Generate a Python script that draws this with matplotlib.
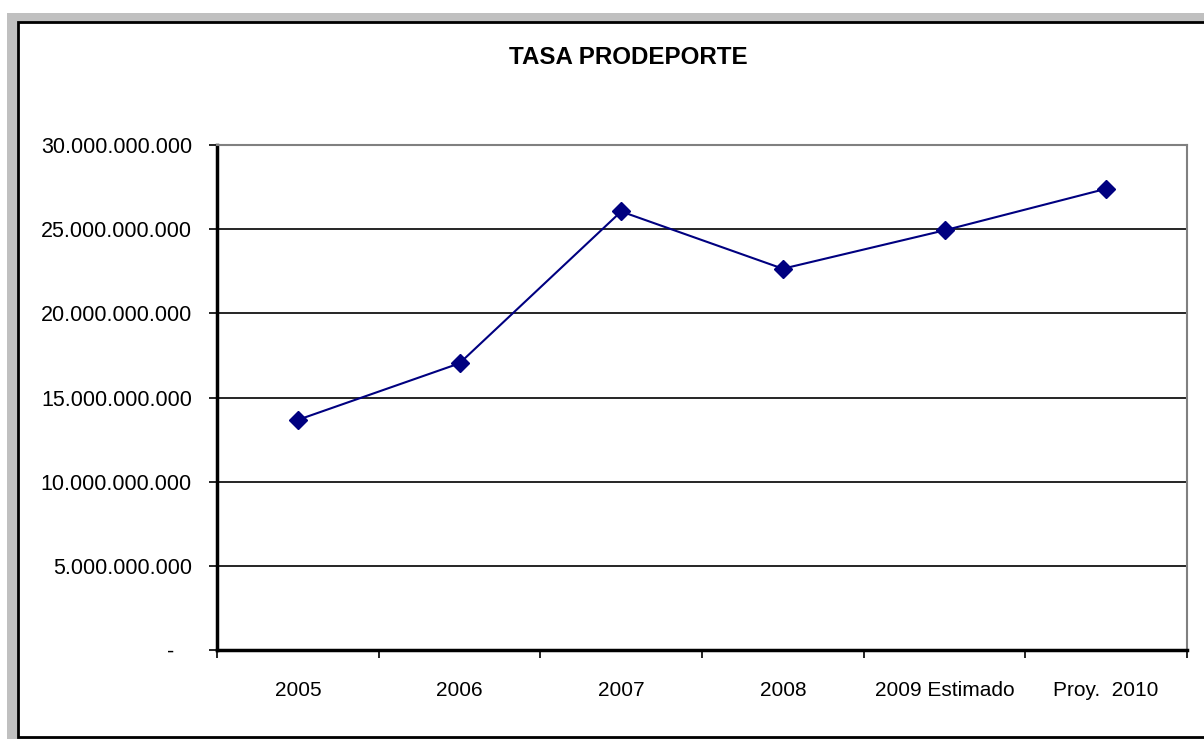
import matplotlib.pyplot as plt
from matplotlib.patches import Rectangle
from matplotlib.ticker import FixedLocator, FuncFormatter

plt.rcParams['font.family'] = ['Liberation Sans', 'DejaVu Sans']

categories = ['2005', '2006', '2007', '2008', '2009 Estimado', 'Proy.  2010']
values = [13.67e9, 17.03e9, 26.05e9, 22.65e9, 24.93e9, 27.40e9]

fig = plt.figure(figsize=(12.04, 7.39), dpi=100)
W, H = 1204, 739

# gray outer frame and white chart box
fig.patches.append(Rectangle((7 / W, 0), 1, 1 - 13 / H, transform=fig.transFigure,
                             facecolor='#c0c0c0', edgecolor='none', zorder=0))
fig.patches.append(Rectangle((17.5 / W, 2 / H), 1.2, 1 - 24 / H, transform=fig.transFigure,
                             facecolor='white', edgecolor='black', linewidth=2, zorder=1))

ax = fig.add_axes([217 / W, 89 / H, 970 / W, 505 / H])
ax.set_zorder(2)
ax.patch.set_alpha(0)

x = list(range(len(categories)))
ax.plot(x, values, color='#000080', linewidth=1.5, marker='D', markersize=9.5,
        markerfacecolor='#000080', markeredgecolor='#000080', zorder=3)

ax.set_xlim(-0.5, len(categories) - 0.5)
ax.set_ylim(0, 30e9)
ax.set_yticks([i * 5e9 for i in range(7)])
for yv in [i * 5e9 for i in range(1, 6)]:
    ax.axhline(yv, color='black', linewidth=1.2, zorder=1)


def fmt(v, pos):
    if v == 0:
        return '-   '
    return f'{int(v):,}'.replace(',', '.')


ax.yaxis.set_major_formatter(FuncFormatter(fmt))
ax.set_xticks(x)
ax.set_xticklabels(categories)
ax.xaxis.set_minor_locator(FixedLocator([i - 0.5 for i in range(len(categories) + 1)]))
ax.tick_params(axis='x', which='major', length=0, pad=22, labelsize=15)
ax.tick_params(axis='x', which='minor', length=6, width=1.2, direction='out')
ax.tick_params(axis='y', length=6, width=1.2, direction='out', pad=12, labelsize=15.5)

for side in ['top', 'right']:
    ax.spines[side].set_color('#808080')
    ax.spines[side].set_linewidth(1.5)
for side in ['left', 'bottom']:
    ax.spines[side].set_color('black')
    ax.spines[side].set_linewidth(2.5)

fig.text(628 / W, 1 - 58 / H, 'TASA PRODEPORTE', ha='center', va='center',
         fontsize=17.4, fontweight='bold')

fig.savefig('out.png', dpi=100)
